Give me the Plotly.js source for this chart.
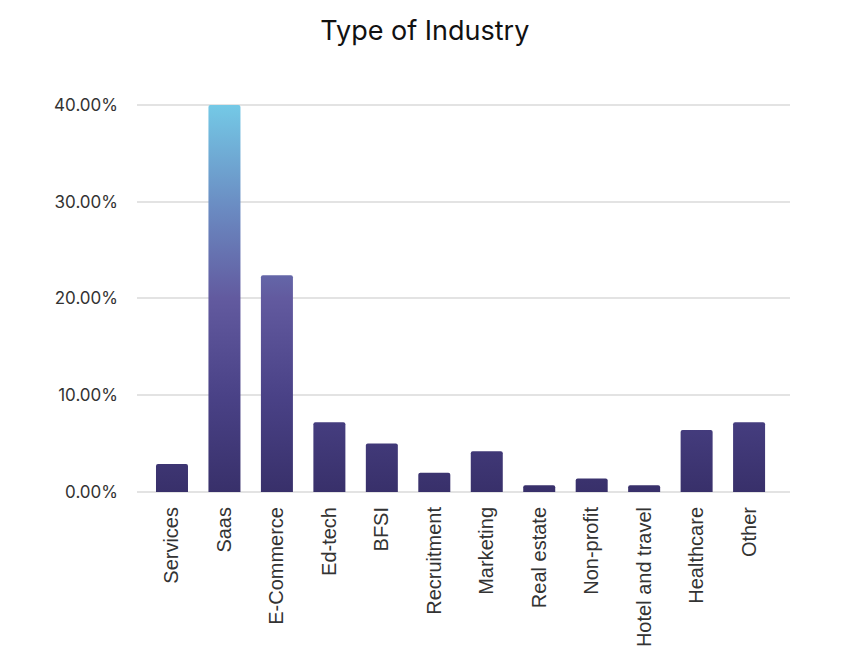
<!DOCTYPE html>
<html>
<head>
<meta charset="utf-8">
<script src="https://cdn.plot.ly/plotly-3.0.1.min.js"></script>
<style>html,body{margin:0;padding:0;background:#fff;}#chart{width:867px;height:670px;}</style>
</head>
<body>
<div id="chart"></div>
<script>
const categories = ["Services","Saas","E-Commerce","Ed-tech","BFSI","Recruitment","Marketing","Real estate","Non-profit","Hotel and travel","Healthcare","Other"];
const shares = [2.9, 40.0, 22.4, 7.2, 5.0, 2.0, 4.2, 0.7, 1.4, 0.7, 6.4, 7.2];
const yTicks = [0, 10, 20, 30, 40];
const yTickText = ["0.00%","10.00%","20.00%","30.00%","40.00%"];

const trace = {
  type: 'bar',
  x: categories,
  y: shares,
  marker: {color: '#3d3675', line: {width: 0}, cornerradius: 2},
  hoverinfo: 'x+y'
};

const layout = {
  width: 867, height: 670,
  margin: {l: 137, r: 77, t: 102, b: 178},
  paper_bgcolor: '#ffffff', plot_bgcolor: '#ffffff',
  bargap: 0.39,
  showlegend: false,
  title: {
    text: 'Type of Industry',
    font: {family: 'Inter, sans-serif', size: 27, color: '#111111'},
    x: 0.49, xref: 'container', xanchor: 'center',
    y: 0.955, yref: 'container', yanchor: 'middle'
  },
  xaxis: {
    type: 'category',
    range: [-0.667, 11.78],
    tickangle: -90,
    tickfont: {family: '"Liberation Sans", Arial, sans-serif', size: 20, color: '#333333'},
    showgrid: false, zeroline: false, showline: false,
    ticks: '', ticklabelstandoff: 10
  },
  yaxis: {
    range: [0, 40.3],
    tickvals: yTicks, ticktext: yTickText,
    tickfont: {family: 'Inter, sans-serif', size: 17, color: '#333333'},
    showgrid: true, gridcolor: '#e3e3e3', gridwidth: 2,
    zeroline: true, zerolinecolor: '#e3e3e3', zerolinewidth: 2,
    showline: false, ticks: '', ticklabelstandoff: 18
  }
};

Plotly.newPlot('chart', [trace], layout, {displayModeBar: false, staticPlot: true}).then(function(gd){
  const ya = gd._fullLayout.yaxis;
  const svg = gd.querySelector('svg.main-svg');
  const NS = 'http://www.w3.org/2000/svg';
  let defs = svg.querySelector('defs');
  if (!defs) { defs = document.createElementNS(NS, 'defs'); svg.insertBefore(defs, svg.firstChild); }
  const grad = document.createElementNS(NS, 'linearGradient');
  grad.setAttribute('id', 'barGrad');
  grad.setAttribute('gradientUnits', 'userSpaceOnUse');
  grad.setAttribute('x1', '0'); grad.setAttribute('x2', '0');
  grad.setAttribute('y1', String(ya.l2p(0)));
  grad.setAttribute('y2', String(ya.l2p(40)));
  const stops = [[0, '#38306a'], [0.25, '#4a4287'], [0.5, '#625a9f'], [0.72, '#6a88c0'], [1, '#74c9e6']];
  stops.forEach(function(s){
    const st = document.createElementNS(NS, 'stop');
    st.setAttribute('offset', s[0]);
    st.setAttribute('stop-color', s[1]);
    grad.appendChild(st);
  });
  defs.appendChild(grad);
  gd.querySelectorAll('.barlayer .point path').forEach(function(p){
    p.style.fill = 'url(#barGrad)';
  });
});
</script>
</body>
</html>
